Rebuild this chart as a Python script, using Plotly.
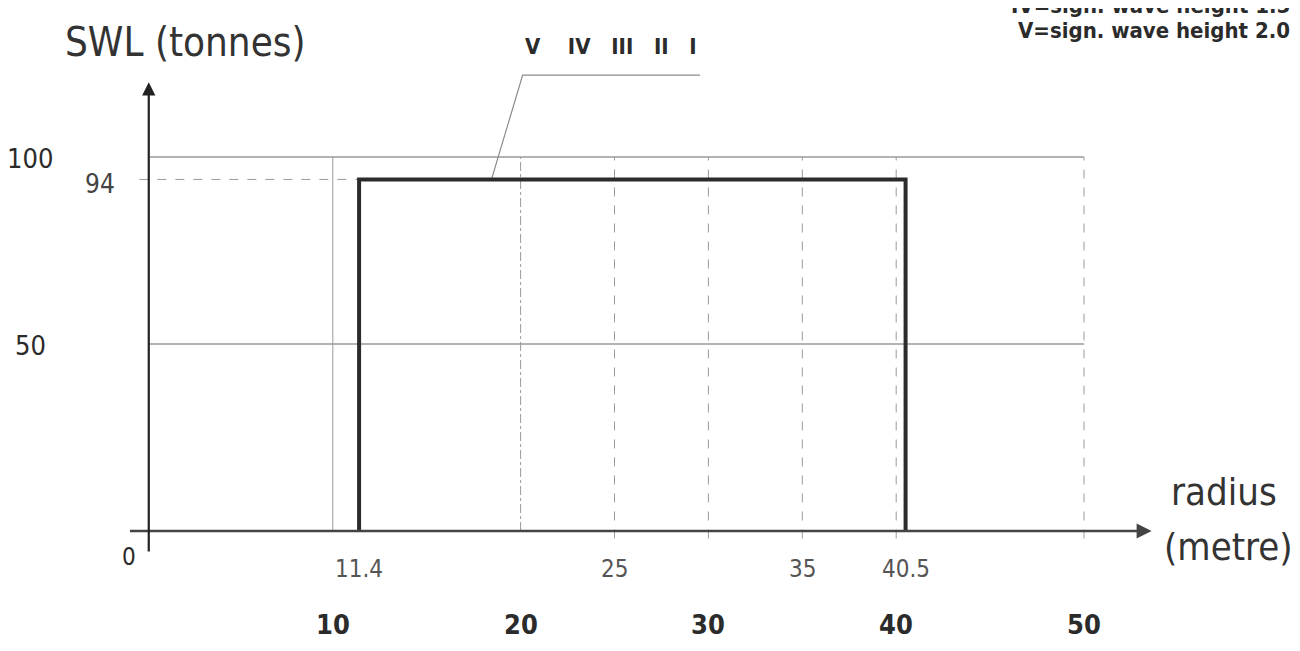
import plotly.graph_objects as go

# ---- data ----
swl_x = [11.4, 11.4, 40.5, 40.5]
swl_y = [0, 94, 94, 0]

y_tick_vals = [100, 50]
y_tick_text = ["100", "50"]
swl_level = 94

grid_x_solid = [10]
grid_x_dashdot = [20]
grid_x_dashed = [25, 30, 35, 40, 50]
grid_y = [100, 50]

radius_major = [10, 20, 30, 40, 50]
radius_major_text = ["10", "20", "30", "40", "50"]
radius_minor = [11.4, 25, 35, 40.5]
radius_minor_text = ["11.4", "25", "35", "40.5"]

legend_text = "V    IV   III   II   I"
note_lines = ["IV=sign. wave height 1.5", "V=sign. wave height 2.0"]

FONT = "DejaVu Sans Condensed, Liberation Sans Narrow, sans-serif"
GRID = "#9a9a9a"
INK = "#2b2b2b"

W, H = 1284, 635  # page body has an 8px margin on every side

fig = go.Figure()

# vertical grid lines
for xv in grid_x_solid:
    fig.add_trace(go.Scatter(x=[xv, xv], y=[0, 100], mode="lines",
                             line=dict(color=GRID, width=1), hoverinfo="skip"))
for xv in grid_x_dashdot:
    fig.add_trace(go.Scatter(x=[xv, xv], y=[0, 100], mode="lines",
                             line=dict(color=GRID, width=1, dash="dashdot"), hoverinfo="skip"))
for xv in grid_x_dashed:
    fig.add_trace(go.Scatter(x=[xv, xv], y=[-2, 100], mode="lines",
                             line=dict(color=GRID, width=1, dash="dash"), hoverinfo="skip"))

# horizontal grid lines
for yv in grid_y:
    fig.add_trace(go.Scatter(x=[0.2, 50], y=[yv, yv], mode="lines",
                             line=dict(color=GRID, width=1.5), hoverinfo="skip"))
fig.add_trace(go.Scatter(x=[-0.3, swl_x[0]], y=[swl_level, swl_level], mode="lines",
                         line=dict(color=GRID, width=1, dash="dash"), hoverinfo="skip"))

# leader line to legend
fig.add_trace(go.Scatter(x=[18.45, 20.11, 29.55], y=[swl_level, 121.9, 121.9], mode="lines",
                         line=dict(color="#8a8a8a", width=1.2), hoverinfo="skip"))

# SWL curve
fig.add_trace(go.Scatter(x=swl_x, y=swl_y, mode="lines",
                         line=dict(color=INK, width=4), hoverinfo="skip"))

annotations = []
# axis arrows
annotations.append(dict(x=53.6, y=0, ax=-0.88, ay=0, xref="x", yref="y", axref="x", ayref="y",
                        showarrow=True, arrowhead=2, arrowsize=1.2, arrowwidth=2.5,
                        arrowcolor="#444", text=""))
annotations.append(dict(x=0.2, y=120.0, ax=0.2, ay=-5.9, xref="x", yref="y", axref="x", ayref="y",
                        showarrow=True, arrowhead=2, arrowsize=1.2, arrowwidth=2.2,
                        arrowcolor="#222", text=""))

# y tick labels
for v, t in zip(y_tick_vals, y_tick_text):
    annotations.append(dict(x=-6.1, y=v - 0.5, xref="x", yref="y", text=t, showarrow=False,
                            font=dict(family=FONT, size=27, color=INK)))
annotations.append(dict(x=-2.4, y=swl_level - 1.2, xref="x", yref="y", text=str(swl_level),
                        showarrow=False, font=dict(family=FONT, size=26, color="#444")))
annotations.append(dict(x=-0.85, y=-7.0, xref="x", yref="y", text="0", showarrow=False,
                        font=dict(family=FONT, size=24, color=INK)))

# x tick labels
for v, t in zip(radius_minor, radius_minor_text):
    annotations.append(dict(x=v, y=-10.2, xref="x", yref="y", text=t, showarrow=False,
                            font=dict(family=FONT, size=24, color="#555")))
for v, t in zip(radius_major, radius_major_text):
    annotations.append(dict(x=v, y=-25.0, xref="x", yref="y", text="<b>" + t + "</b>",
                            showarrow=False, font=dict(family=FONT, size=27, color=INK)))

# axis titles
annotations.append(dict(x=2.13, y=130.7, xref="x", yref="y", text="SWL (tonnes)", showarrow=False,
                        font=dict(family=FONT, size=40, color="#333")))
annotations.append(dict(x=57.45, y=10.4, xref="x", yref="y", text="radius", showarrow=False,
                        font=dict(family=FONT, size=38, color="#333")))
annotations.append(dict(x=57.67, y=-4.3, xref="x", yref="y", text="(metre)", showarrow=False,
                        font=dict(family=FONT, size=38, color="#333")))

# legend numerals
annotations.append(dict(x=24.79, y=129.5, xref="x", yref="y", text="<b>" + legend_text + "</b>",
                        showarrow=False, font=dict(family=FONT, size=22, color=INK)))

# top-right notes
annotations.append(dict(x=1.0, y=1 + 2 / H, xref="paper", yref="paper", xanchor="right",
                        yanchor="middle", text="<b>" + note_lines[0] + "</b>", showarrow=False,
                        font=dict(family=FONT, size=22, color=INK)))
annotations.append(dict(x=1.0, y=1 - 22.5 / H, xref="paper", yref="paper", xanchor="right",
                        yanchor="middle", text="<b>" + note_lines[1] + "</b>", showarrow=False,
                        font=dict(family=FONT, size=22, color=INK)))

fig.update_layout(
    width=W, height=H,
    margin=dict(l=0, r=0, t=0, b=0),
    paper_bgcolor="white", plot_bgcolor="white",
    showlegend=False,
    xaxis=dict(range=[-7.295, 61.076], visible=False, fixedrange=True),
    yaxis=dict(range=[-29.95, 139.84], visible=False, fixedrange=True),
    annotations=annotations,
)

fig.write_html("out.html")
